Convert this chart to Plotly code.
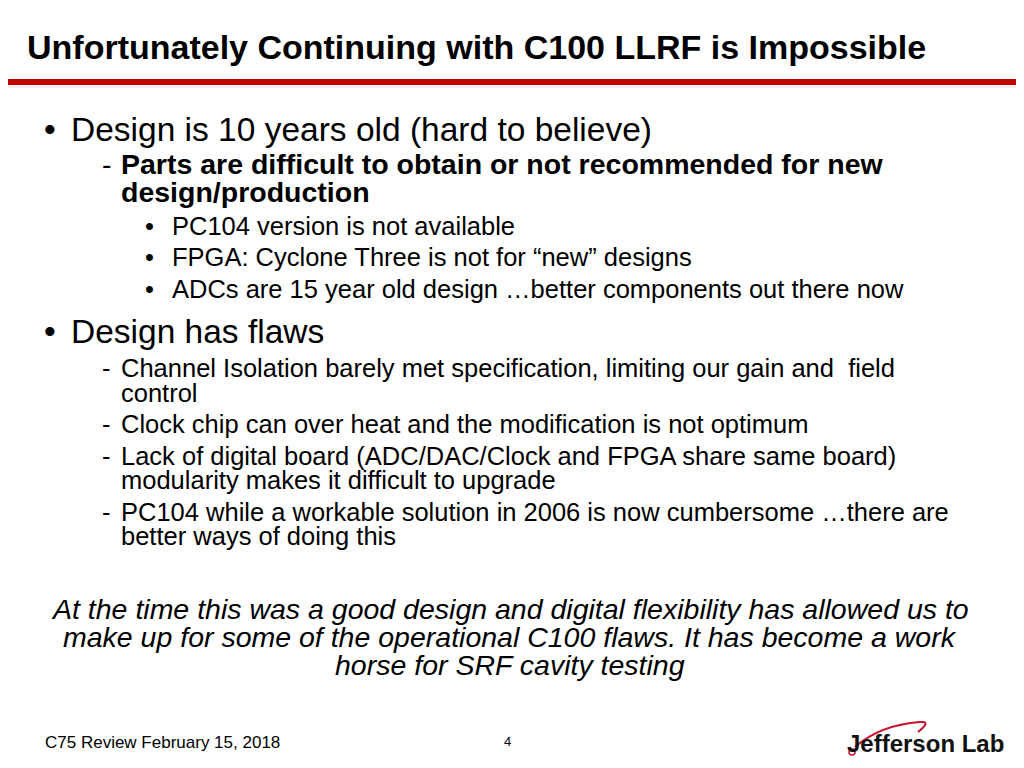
import plotly.graph_objects as go

title = "Unfortunately Continuing with C100 LLRF is Impossible"
# (text, x, y, size, bold, marker, marker_x)
lines = [
    ("Design is 10 years old (hard to believe)", 72, 129, 33.5, False, "•", 45),
    ("Parts are difficult to obtain or not recommended for new", 122, 164, 28.5, True, "-", 103),
    ("design/production", 122, 192, 28.5, True, "", 0),
    ("PC104 version is not available", 173, 226, 25.5, False, "•", 146),
    ("FPGA: Cyclone Three is not for “new” designs", 173, 257, 25.5, False, "•", 146),
    ("ADCs are 15 year old design …better components out there now", 173, 289, 25.5, False, "•", 146),
    ("Design has flaws", 72, 331, 33.5, False, "•", 45),
    ("Channel Isolation barely met specification, limiting our gain and  field", 122, 368, 25.5, False, "-", 103),
    ("control", 122, 393, 25.5, False, "", 0),
    ("Clock chip can over heat and the modification is not optimum", 122, 424, 25.5, False, "-", 103),
    ("Lack of digital board (ADC/DAC/Clock and FPGA share same board)", 122, 456, 25.5, False, "-", 103),
    ("modularity makes it difficult to upgrade", 122, 480, 25.5, False, "", 0),
    ("PC104 while a workable solution in 2006 is now cumbersome …there are", 122, 512, 25.5, False, "-", 103),
    ("better ways of doing this", 122, 536, 25.5, False, "", 0),
]
italic_lines = [
    ("At the time this was a good design and digital flexibility has allowed us to", 609),
    ("make up for some of the operational C100 flaws. It has become a work", 637),
    ("horse for SRF cavity testing", 665),
]
footer = "C75 Review February 15, 2018"
page = "4"
logo = "Jefferson Lab"

F = "Liberation Sans, Arial, sans-serif"
OFF = 8
fig = go.Figure()
ann = []
def add(t, x, y, size, xa="left", color="black"):
    ann.append(dict(text=t, x=x, y=y, xref="x", yref="y", xanchor=xa, yanchor="middle",
                    showarrow=False, borderpad=0,
                    font=dict(family=F, size=size, color=color)))

add("<b>%s</b>" % title, 26, 47, 34)
for t, x, y, s, b, m, mx in lines:
    add("<b>%s</b>" % t if b else t, x - 2, y, s)
    if m:
        add(m, mx - 2, y, s)
for t, y in italic_lines:
    add("<i>%s</i>" % t, 510, y, 28.5, xa="center")
add(footer, 44, 742, 17)
add(page, 503, 741, 13)
add("<b>%s</b>" % logo, 846, 743, 24, color="#111111")

shapes = [
    dict(type="rect", x0=0, x1=1040, y0=79, y1=85, fillcolor="#c00000", line=dict(width=0), xref="x", yref="y"),
    dict(type="rect", x0=0, x1=1040, y0=85, y1=88, fillcolor="#f0f0f0", line=dict(width=0), xref="x", yref="y"),
    dict(type="path", path="M 855 747 Q 880 725 920 722 Q 932 721 918 732",
         line=dict(color="#c8102e", width=2), xref="x", yref="y"),
    dict(type="circle", x0=849, x1=855, y0=749, y1=755, line=dict(color="#c8102e", width=1.5), fillcolor="white", xref="x", yref="y"),
]
fig.update_layout(width=1024, height=768, margin=dict(l=0, r=0, t=0, b=0),
                  paper_bgcolor="white", plot_bgcolor="white",
                  xaxis=dict(range=[OFF, 1024 + OFF], visible=False, fixedrange=True),
                  yaxis=dict(range=[768 + OFF, OFF], visible=False, fixedrange=True),
                  annotations=ann, shapes=shapes, showlegend=False)
fig.write_html("out.html")
